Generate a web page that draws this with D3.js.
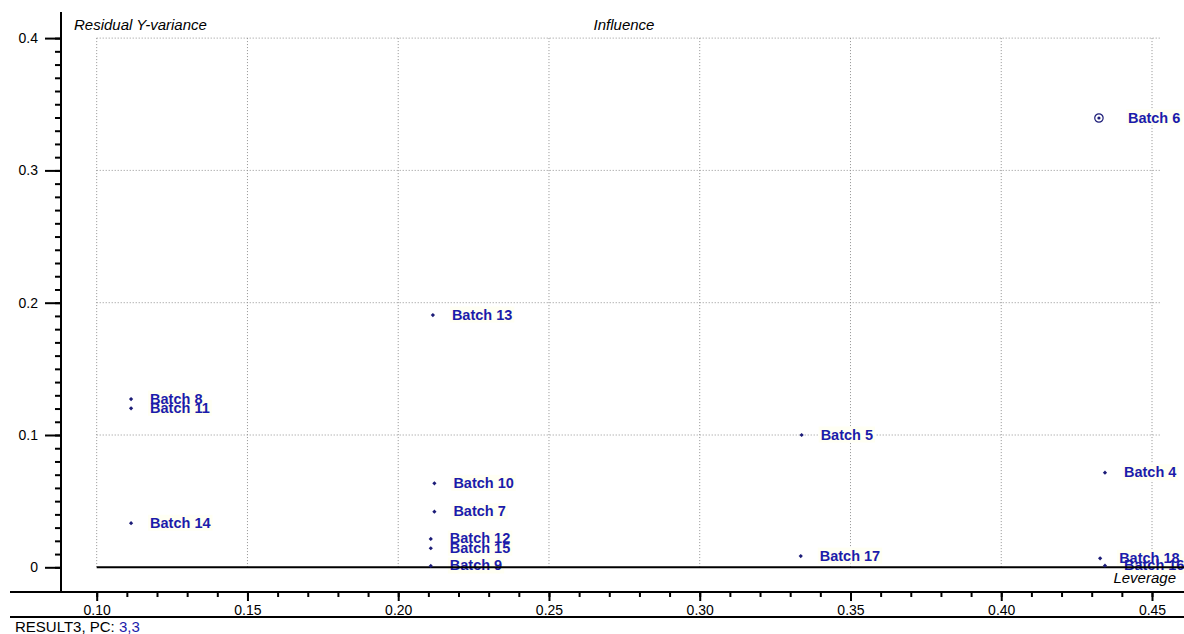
<!DOCTYPE html>
<html>
<head>
<meta charset="utf-8">
<script src="https://cdn.jsdelivr.net/npm/d3@7"></script>
<style>
  html, body { margin: 0; padding: 0; background: #fff; }
  svg { display: block; font-family: Arial, "Liberation Sans", sans-serif; }
</style>
</head>
<body>
<svg id="chart" width="1184" height="634"></svg>
<script>
// Influence plot: leverage vs. residual Y-variance per batch
const batches  = ["Batch 6", "Batch 4", "Batch 18", "Batch 16", "Batch 13", "Batch 8", "Batch 11", "Batch 14",
                  "Batch 10", "Batch 7", "Batch 12", "Batch 15", "Batch 9", "Batch 5", "Batch 17"];
const leverage = [0.4324, 0.4344, 0.4328, 0.4344, 0.2115, 0.1114, 0.1114, 0.1114,
                  0.2120, 0.2120, 0.2108, 0.2108, 0.2108, 0.3338, 0.3335];
const residual = [0.3396, 0.0715, 0.0068, 0.0012, 0.1907, 0.1272, 0.1202, 0.0333,
                  0.0635, 0.0420, 0.0214, 0.0144, 0.0010, 0.1000, 0.0085];
const highlighted = ["Batch 6"];

const xTicks = [0.10, 0.15, 0.20, 0.25, 0.30, 0.35, 0.40, 0.45];
const yTicks = [0, 0.1, 0.2, 0.3, 0.4];
const xMinorTicks = d3.ticks(0.10, 0.45, 35);
const yMinorTicks = d3.ticks(0, 0.4, 40);

const svg = d3.select("#chart");
const x = d3.scaleLinear().domain([0.10, 0.45]).range([96.7, 1152]);
const y = d3.scaleLinear().domain([0, 0.4]).range([567.3, 38.1]);

const ink = "#000";
const labelBlue = "#1c1caa";
const markBlue = "#1c1c78";
const gridGrey = "#929292";
const font = "Arial, 'Liberation Sans', sans-serif";

// dotted grid
const grid = svg.append("g");
grid.selectAll("line.v").data(xTicks).join("line")
  .attr("x1", d => x(d)).attr("x2", d => x(d))
  .attr("y1", y(0.4)).attr("y2", y(0))
  .attr("stroke", gridGrey).attr("stroke-width", 1).attr("stroke-dasharray", "1,2");
grid.selectAll("line.h").data(yTicks.filter(d => d > 0)).join("line")
  .attr("x1", x(0.10)).attr("x2", x(0.4527))
  .attr("y1", d => y(d)).attr("y2", d => y(d))
  .attr("stroke", gridGrey).attr("stroke-width", 1).attr("stroke-dasharray", "1,2");

// y axis
const yMinor = svg.append("g").attr("transform", "translate(61,0)")
  .call(d3.axisLeft(y).tickValues(yMinorTicks).tickSize(6).tickFormat(""));
yMinor.select(".domain").remove();
const yMajor = svg.append("g").attr("transform", "translate(61,0)")
  .call(d3.axisLeft(y).tickValues(yTicks).tickSize(16).tickPadding(7)
    .tickFormat(d => d === 0 ? "0" : d3.format(".1f")(d)));
yMajor.select(".domain").remove();
yMajor.selectAll("text").attr("font-size", 14).attr("fill", ink).attr("font-family", font);
svg.append("line").attr("x1", 61).attr("x2", 61).attr("y1", 12).attr("y2", 593)
  .attr("stroke", ink).attr("stroke-width", 2);

// x axis
const xAxisY = 592;
const xMinor = svg.append("g").attr("transform", `translate(0,${xAxisY})`)
  .call(d3.axisBottom(x).tickValues(xMinorTicks).tickSize(5).tickFormat(""));
xMinor.select(".domain").remove();
const xMajor = svg.append("g").attr("transform", `translate(0,${xAxisY})`)
  .call(d3.axisBottom(x).tickValues(xTicks).tickSize(9).tickPadding(4).tickFormat(d3.format(".2f")));
xMajor.select(".domain").remove();
xMajor.selectAll("text").attr("font-size", 14).attr("fill", ink).attr("font-family", font);
svg.selectAll("g.tick line").attr("stroke", ink).attr("stroke-width", 2);
svg.append("line").attr("x1", 10).attr("x2", 1184).attr("y1", xAxisY).attr("y2", xAxisY)
  .attr("stroke", ink).attr("stroke-width", 2);
svg.append("line").attr("x1", 10).attr("x2", 1184).attr("y1", 617).attr("y2", 617)
  .attr("stroke", ink).attr("stroke-width", 2);

// corner captions
svg.append("text").attr("x", 74).attr("y", 30).attr("font-size", 15).attr("font-style", "italic")
  .attr("fill", ink).text("Residual Y-variance");
svg.append("text").attr("x", 624).attr("y", 30).attr("font-size", 15).attr("font-style", "italic")
  .attr("text-anchor", "middle").attr("fill", ink).text("Influence");
svg.append("text").attr("x", 1176).attr("y", 583).attr("font-size", 15).attr("font-style", "italic")
  .attr("text-anchor", "end").attr("fill", ink).text("Leverage");

const foot = svg.append("text").attr("x", 15).attr("y", 632).attr("font-size", 15).attr("fill", ink);
foot.append("tspan").text("RESULT3, PC: ");
foot.append("tspan").attr("fill", labelBlue).text("3,3");

// point labels: pale boxes first, then all the texts on top
const pts = batches.map((name, i) => ({ name, lev: leverage[i], res: residual[i], hi: highlighted.includes(name) }));
const boxLayer = svg.append("g");
const textLayer = svg.append("g");
textLayer.selectAll("text").data(pts).join("text")
  .attr("x", p => x(p.lev) + (p.hi ? 29 : 19))
  .attr("y", p => y(p.res) + 4.5)
  .attr("font-size", 14.5).attr("font-weight", "bold").attr("fill", labelBlue)
  .text(p => p.name)
  .each(function () {
    const b = this.getBBox();
    boxLayer.append("rect")
      .attr("x", b.x - 2).attr("y", b.y).attr("width", b.width + 4).attr("height", b.height)
      .attr("fill", "#fffff3");
  });

// zero reference line
svg.append("line").attr("x1", x(0.10)).attr("x2", 1184).attr("y1", y(0)).attr("y2", y(0))
  .attr("stroke", ink).attr("stroke-width", 2);

// markers
const marks = svg.append("g");
marks.selectAll("path").data(pts.filter(p => !p.hi)).join("path")
  .attr("transform", p => `translate(${x(p.lev)},${y(p.res)}) rotate(45)`)
  .attr("d", d3.symbol(d3.symbolSquare, 9))
  .attr("fill", markBlue);
const hiMarks = marks.selectAll("g.hi").data(pts.filter(p => p.hi)).join("g")
  .attr("transform", p => `translate(${x(p.lev)},${y(p.res)})`);
hiMarks.append("circle").attr("r", 4.2).attr("fill", "none").attr("stroke", markBlue).attr("stroke-width", 1.2);
hiMarks.append("circle").attr("r", 1.6).attr("fill", markBlue);
</script>
</body>
</html>
